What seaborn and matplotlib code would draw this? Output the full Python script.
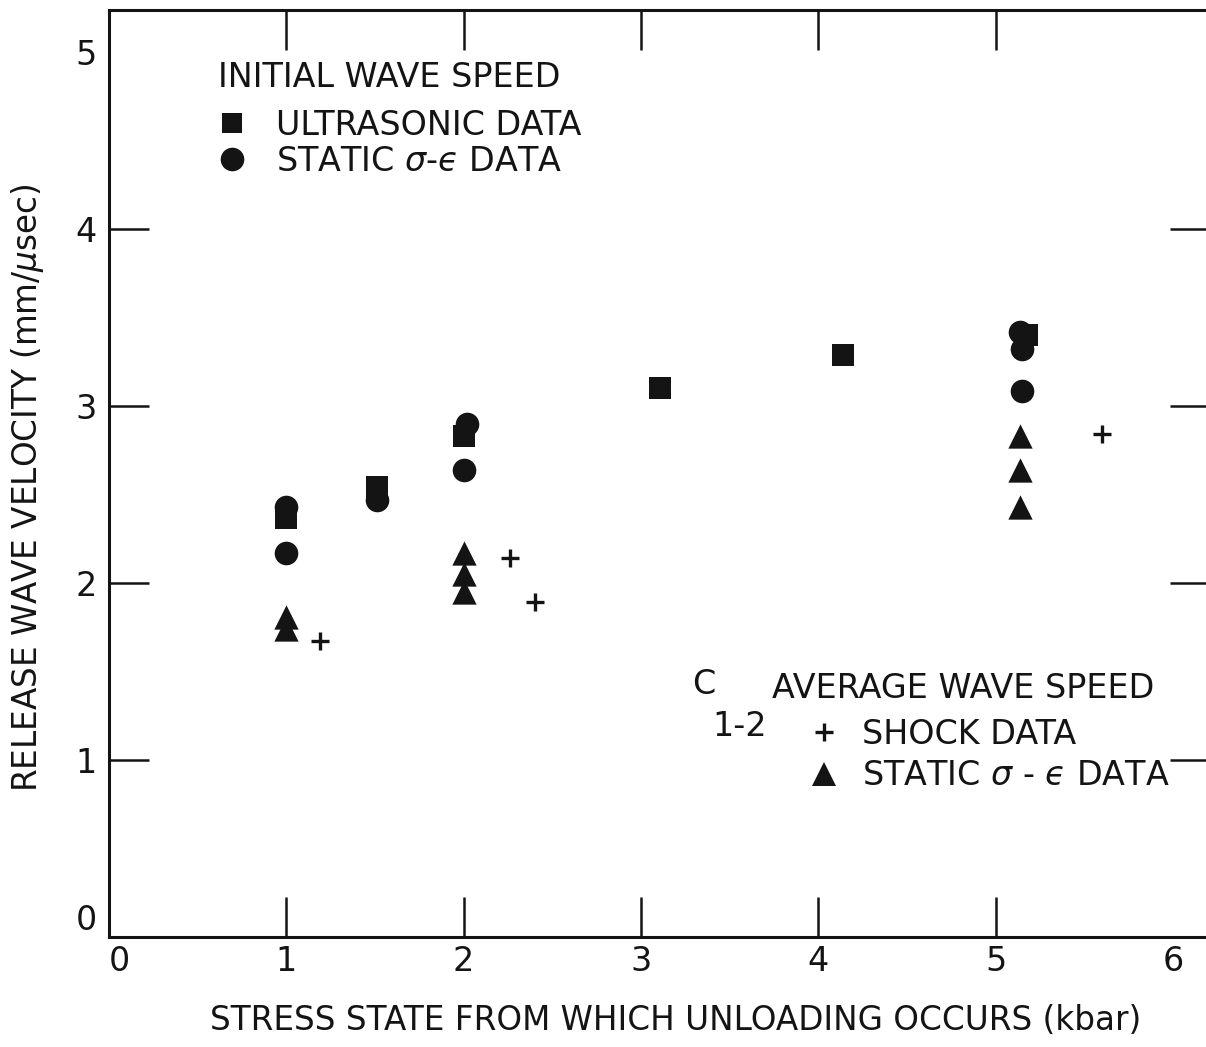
import matplotlib
matplotlib.use("Agg")
import matplotlib.pyplot as plt
from matplotlib.lines import Line2D
import seaborn as sns
import pandas as pd

# ---------------- data ----------------
ultra_x = [1.00, 1.51, 2.00, 3.11, 4.14, 5.18]
ultra_y = [2.37, 2.54, 2.83, 3.10, 3.29, 3.40]

static_init_x = [1.00, 1.00, 1.51, 2.02, 2.00, 5.14, 5.15, 5.15]
static_init_y = [2.43, 2.17, 2.47, 2.90, 2.64, 3.42, 3.32, 3.085]

shock_x = [1.19, 2.26, 2.40, 5.60]
shock_y = [1.67, 2.14, 1.89, 2.84]

static_avg_x = [1.00, 1.00, 2.00, 2.00, 2.00, 5.14, 5.14, 5.14]
static_avg_y = [1.81, 1.74, 2.17, 2.05, 1.95, 2.83, 2.64, 2.43]

x_ticks = [0, 1, 2, 3, 4, 5, 6]
y_ticks = [0, 1, 2, 3, 4, 5]

x_label = "STRESS STATE FROM WHICH UNLOADING OCCURS (kbar)"
y_label = r"RELEASE WAVE VELOCITY (mm/$\mu$sec)"
leg1_title = "INITIAL WAVE SPEED"
leg1_labels = ["ULTRASONIC DATA", "STATIC $\\sigma$-$\u03f5$ DATA"]
leg2_title = "AVERAGE WAVE SPEED"
leg2_labels = ["SHOCK DATA", "STATIC $\\sigma$ - $\u03f5$ DATA"]

# ---------------- style ----------------
sns.set_theme(style="ticks")
plt.rcParams["font.family"] = ["DejaVu Sans"]
plt.rcParams["mathtext.fontset"] = "dejavusans"
INK = "#141414"

W, H = 1206, 1047
fig = plt.figure(figsize=(W / 100, H / 100), dpi=100)
fig.patch.set_facecolor("white")

def fx(p):
    return p / W

def fy(p):
    return 1 - p / H

ax_l, ax_r, ax_t, ax_b = 109, 1210, 10, 937
ax = fig.add_axes([fx(ax_l), fy(ax_b), (ax_r - ax_l) / W, (ax_b - ax_t) / H])
ax.set_facecolor("white")

df_u = pd.DataFrame({"x": ultra_x, "y": ultra_y})
df_si = pd.DataFrame({"x": static_init_x, "y": static_init_y})
df_sh = pd.DataFrame({"x": shock_x, "y": shock_y})
df_sa = pd.DataFrame({"x": static_avg_x, "y": static_avg_y})

sns.scatterplot(data=df_u, x="x", y="y", marker="s", s=15.5 ** 2, color=INK,
                linewidth=0, ax=ax, legend=False, zorder=3)
sns.scatterplot(data=df_si, x="x", y="y", marker="o", s=17 ** 2, color=INK,
                linewidth=0, ax=ax, legend=False, zorder=3)
sns.scatterplot(data=df_sa, x="x", y="y", marker="^", s=17.5 ** 2, color=INK,
                linewidth=0, ax=ax, legend=False, zorder=3)
sns.scatterplot(data=df_sh, x="x", y="y", marker="+", s=13 ** 2, color=INK,
                linewidth=2.4, ax=ax, legend=False, zorder=3)

ax.set_xlim(0, (ax_r - ax_l) / 177.3)
ax.set_ylim(0, (ax_b - ax_t) / 177.0)

for side in ["left", "bottom", "top", "right"]:
    ax.spines[side].set_visible(True)
    ax.spines[side].set_linewidth(2.2)
    ax.spines[side].set_color(INK)

ax.set_xticks(x_ticks)
ax.set_xticklabels([str(t) for t in x_ticks])
ax.set_yticks(y_ticks)
ax.set_yticklabels([str(t) for t in y_ticks])
ax.tick_params(axis="both", which="major", direction="in", length=29, width=1.8,
               color=INK, labelcolor=INK, labelsize=24, top=True, right=True)
ax.tick_params(axis="x", pad=6)
ax.tick_params(axis="y", pad=9)

# hide tick marks at ends (labels only), as in the reference
for t in ax.xaxis.get_major_ticks():
    if t.get_loc() in (0, 6):
        t.tick1line.set_visible(False)
        t.tick2line.set_visible(False)
for t in ax.yaxis.get_major_ticks():
    if t.get_loc() in (0, 5):
        t.tick1line.set_visible(False)
        t.tick2line.set_visible(False)
ax.xaxis.get_major_ticks()[0].label1.set_horizontalalignment("left")
ax.yaxis.get_major_ticks()[0].label1.set_verticalalignment("bottom")

ax.set_xlabel(x_label, fontsize=23.5, color=INK, va="center")
ax.xaxis.set_label_coords((676 - ax_l) / (ax_r - ax_l), (ax_b - 1021) / (ax_b - ax_t))
ax.set_ylabel(y_label, fontsize=23.5, color=INK, va="center")
ax.yaxis.set_label_coords((28 - ax_l) / (ax_r - ax_l), (ax_b - 488) / (ax_b - ax_t))

# ---------------- legends ----------------
FS = 24
h_sq = Line2D([], [], ls="", marker="s", markersize=15, color=INK, mew=0)
h_ci = Line2D([], [], ls="", marker="o", markersize=17, color=INK, mew=0)
h_pl = Line2D([], [], ls="", marker="+", markersize=13, color=INK, mew=2.4)
h_tr = Line2D([], [], ls="", marker="^", markersize=17, color=INK, mew=0)

leg1 = ax.legend([h_sq, h_ci], leg1_labels, loc="upper left",
                 bbox_to_anchor=(fx(218), fy(109)), bbox_transform=fig.transFigure,
                 frameon=False, fontsize=FS, borderpad=0,
                 borderaxespad=0, handlelength=0.85, handletextpad=0.88,
                 labelspacing=0.09)
for t in leg1.get_texts():
    t.set_color(INK)
ax.add_artist(leg1)

leg2 = ax.legend([h_pl, h_tr], leg2_labels, loc="upper left",
                 bbox_to_anchor=(fx(810), fy(718)), bbox_transform=fig.transFigure,
                 frameon=False, fontsize=FS, borderpad=0, borderaxespad=0,
                 handlelength=0.85, handletextpad=0.72, labelspacing=0.25)
for t in leg2.get_texts():
    t.set_color(INK)

fig.text(fx(218), fy(87), leg1_title, fontsize=FS, color=INK, ha="left", va="baseline")
fig.text(fx(772), fy(698), leg2_title, fontsize=FS, color=INK, ha="left", va="baseline")
fig.text(fx(692), fy(694), "C", fontsize=FS, color=INK, ha="left", va="baseline")
fig.text(fx(712), fy(736), "1-2", fontsize=FS, color=INK, ha="left", va="baseline")

fig.savefig("out.png", dpi=100, facecolor="white")
